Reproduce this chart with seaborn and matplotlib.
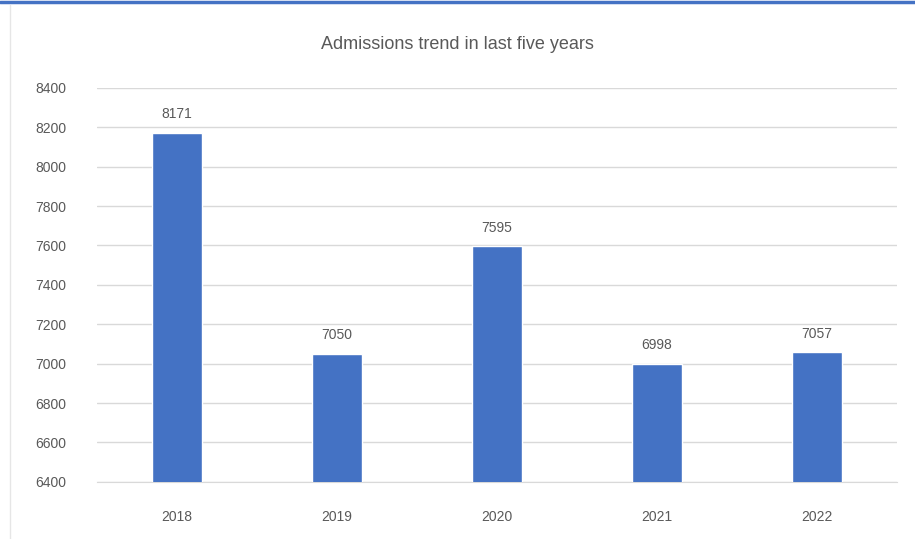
import pandas as pd
import matplotlib.pyplot as plt
import seaborn as sns

# admissions per year
years = ['2018', '2019', '2020', '2021', '2022']
admissions = [8171, 7050, 7595, 6998, 7057]
yticks = [6400, 6600, 6800, 7000, 7200, 7400, 7600, 7800, 8000, 8200, 8400]

df = pd.DataFrame({'year': years, 'admissions': admissions})

sns.set_style('white')
plt.rcParams['font.family'] = ['Liberation Sans', 'DejaVu Sans']

fig = plt.figure(figsize=(9.15, 5.39), dpi=100)
ax = fig.add_axes([0.106, 0.106, 0.874, 0.731])

sns.barplot(data=df, x='year', y='admissions', color='#4472C4', width=0.31,
            saturation=1, ax=ax, zorder=3)

ax.set_ylim(6400, 8400)
ax.set_yticks(yticks)
ax.yaxis.grid(True, color='#D9D9D9', linewidth=1, zorder=0)
ax.set_xlabel('')
ax.set_ylabel('')
for s in ['top', 'right', 'left']:
    ax.spines[s].set_visible(False)
ax.spines['bottom'].set_color('#D9D9D9')
ax.tick_params(axis='both', colors='#595959', labelsize=10, length=0)
ax.tick_params(axis='y', pad=22)
ax.tick_params(axis='x', pad=20)

for i, v in enumerate(admissions):
    ax.text(i, v + 60, str(v), ha='center', va='bottom', color='#595959', fontsize=10)

fig.text(0.5, 0.918, 'Admissions trend in last five years', ha='center', va='center',
         color='#595959', fontsize=13)

# window border lines
fig.add_artist(plt.Line2D([0, 1], [0.997, 0.997], color='#4472C4', linewidth=2.5,
                          transform=fig.transFigure))
fig.add_artist(plt.Line2D([0.011, 0.011], [0, 0.99], color='#E6E6E6', linewidth=1,
                          transform=fig.transFigure))

fig.savefig('out.png', dpi=100)
